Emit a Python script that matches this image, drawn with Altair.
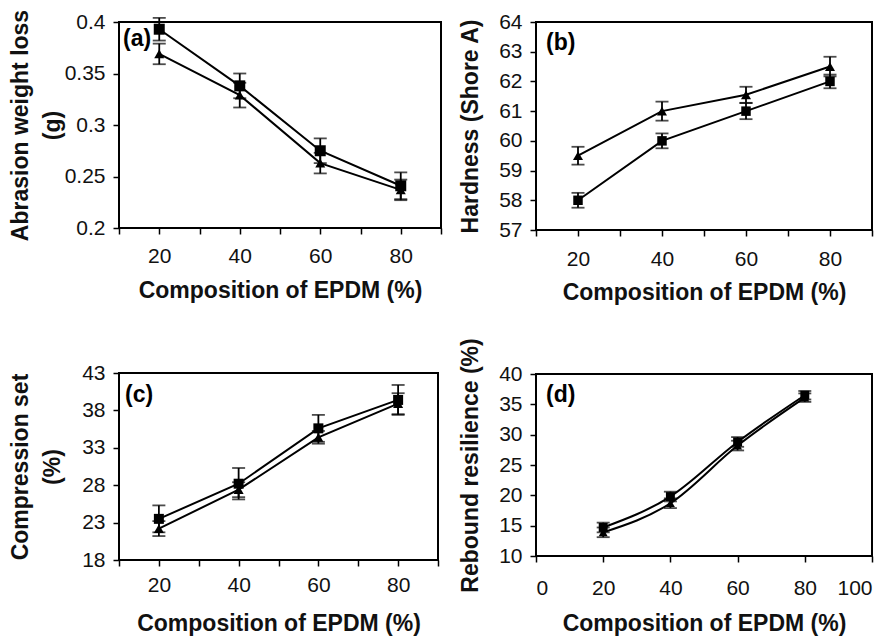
import altair as alt
import pandas as pd

FONT = "Liberation Sans"

# x categories (composition of EPDM, %)
x_vals = [20, 40, 60, 80]

# (a) abrasion weight loss (g)
a_sq = [0.393, 0.338, 0.275, 0.241]
a_sq_err = [0.011, 0.012, 0.012, 0.013]
a_tri = [0.369, 0.329, 0.263, 0.237]
a_tri_err = [0.010, 0.012, 0.010, 0.010]

# (b) hardness (Shore A)
b_sq = [58.0, 60.0, 61.0, 62.0]
b_sq_err = [0.25, 0.25, 0.27, 0.23]
b_tri = [59.5, 61.0, 61.55, 62.5]
b_tri_err = [0.30, 0.32, 0.27, 0.33]

# (c) compression set (%)
c_sq = [23.5, 28.2, 35.6, 39.4]
c_sq_err = [1.8, 2.1, 1.8, 2.0]
c_tri = [22.2, 27.4, 34.4, 38.9]
c_tri_err = [1.0, 1.0, 0.85, 1.4]

# (d) rebound resilience (%)
d_sq = [14.7, 19.8, 28.8, 36.5]
d_sq_err = [0.8, 0.8, 0.8, 0.7]
d_tri = [13.9, 18.7, 28.2, 36.1]
d_tri_err = [0.8, 0.8, 0.8, 0.7]

# axis ticks
cat_ticks = [10, 20, 30, 40, 50, 60, 70, 80, 90]
d_x_ticks = [0, 20, 40, 60, 80, 100]
a_y_ticks = [0.2, 0.25, 0.3, 0.35, 0.4]
b_y_ticks = [57, 58, 59, 60, 61, 62, 63, 64]
c_y_ticks = [18, 23, 28, 33, 38, 43]
d_y_ticks = [10, 15, 20, 25, 30, 35, 40]

X_TITLE = "Composition of EPDM (%)"


def make_df(sq, sqe, tri, trie):
    rows = []
    for xv, v, e in zip(x_vals, sq, sqe):
        rows.append(dict(x=xv, y=v, lo=v - e, hi=v + e, s="sq"))
    for xv, v, e in zip(x_vals, tri, trie):
        rows.append(dict(x=xv, y=v, lo=v - e, hi=v + e, s="tri"))
    return pd.DataFrame(rows)


def panel(df, xdom, xticks, label_all, ydom, yticks, ytitle, ytp, xlp, xtp,
          w, h, tag, tag_dx, tag_dy, sq_size, tri_size, interp="linear",
          yfmt="~g", title_lh=32):
    lexpr = "datum.label" if label_all else "datum.value % 20 == 0 ? datum.label : ''"
    xaxis = alt.Axis(values=xticks, labelExpr=lexpr, title=X_TITLE,
                     labelPadding=xlp, titlePadding=xtp)
    yaxis = alt.Axis(values=yticks, title=ytitle, titlePadding=ytp,
                     format=yfmt, titleLineHeight=title_lh)
    xs = alt.Scale(domain=xdom, nice=False, zero=False)
    ys = alt.Scale(domain=ydom, nice=False, zero=False)
    X = alt.X("x:Q", scale=xs, axis=xaxis)
    base = alt.Chart(df)
    line = base.mark_line(color="black", strokeWidth=2, interpolate=interp).encode(
        x=X, y=alt.Y("y:Q", scale=ys, axis=yaxis), detail="s:N")
    rule = base.mark_rule(color="black", strokeWidth=1.8).encode(
        x=X, y=alt.Y("lo:Q", scale=ys, axis=yaxis), y2="hi:Q")
    tick_lo = base.mark_tick(color="black", orient="horizontal", size=13, thickness=1.8).encode(
        x=X, y=alt.Y("lo:Q", scale=ys, axis=yaxis))
    tick_hi = base.mark_tick(color="black", orient="horizontal", size=13, thickness=1.8).encode(
        x=X, y=alt.Y("hi:Q", scale=ys, axis=yaxis))
    sq = base.transform_filter(alt.datum.s == "sq").mark_point(
        shape="square", filled=True, color="black", opacity=1, size=sq_size).encode(
        x=X, y=alt.Y("y:Q", scale=ys, axis=yaxis))
    tri = base.transform_filter(alt.datum.s == "tri").mark_point(
        shape="triangle-up", filled=True, color="black", opacity=1, size=tri_size).encode(
        x=X, y=alt.Y("y:Q", scale=ys, axis=yaxis))
    txt = alt.Chart(pd.DataFrame({"t": [tag]})).mark_text(
        font=FONT, fontSize=23, fontWeight="bold", align="left", baseline="middle",
        color="black").encode(text="t:N", x=alt.value(tag_dx), y=alt.value(tag_dy))
    return alt.layer(line, rule, tick_lo, tick_hi, tri, sq, txt).properties(
        width=w, height=h, view=alt.ViewBackground(stroke="black", strokeWidth=2))


pa = panel(make_df(a_sq, a_sq_err, a_tri, a_tri_err), [10, 90], cat_ticks, False,
           [0.2, 0.4], a_y_ticks, ["Abrasion weight loss", "(g)"], 0, 11, 13,
           322, 206, "(a)", 4, 17, 121, 100)
pb = panel(make_df(b_sq, b_sq_err, b_tri, b_tri_err), [10, 90], cat_ticks, False,
           [57, 64], b_y_ticks, "Hardness (Shore A)", 16, 12, 12,
           336, 208, "(b)", 10, 21, 90, 100)
pc = panel(make_df(c_sq, c_sq_err, c_tri, c_tri_err), [10, 90], cat_ticks, False,
           [18, 43], c_y_ticks, ["Compression set", "(%)"], 17, 8, 17,
           319, 187, "(c)", 6, 22, 100, 100)
pd_ = panel(make_df(d_sq, d_sq_err, d_tri, d_tri_err), [0, 100], d_x_ticks, True,
            [10, 40], d_y_ticks, "Rebound resilience (%)", 16, 15, 14,
            336, 182, "(d)", 10, 21, 80, 80, interp="monotone")

col1 = alt.vconcat(pa, pc, spacing=58)
col2 = alt.vconcat(pb, pd_, spacing=31)

chart = alt.hconcat(col1, col2, spacing=15).properties(
    padding={"left": 0, "top": 0, "right": 0, "bottom": 0}
).configure(
    font=FONT, background="white"
).configure_view(stroke=None).configure_axis(
    labelFont=FONT, labelFontSize=21, labelColor="#111", titleFont=FONT,
    titleFontSize=23, titleFontWeight="bold", titleColor="#111", grid=False,
    domain=False, tickColor="black", tickWidth=1.5, tickSize=6, labelPadding=8,
    labelOverlap=False
)

chart.save("out.html", embed_options={"renderer": "svg", "actions": False})
